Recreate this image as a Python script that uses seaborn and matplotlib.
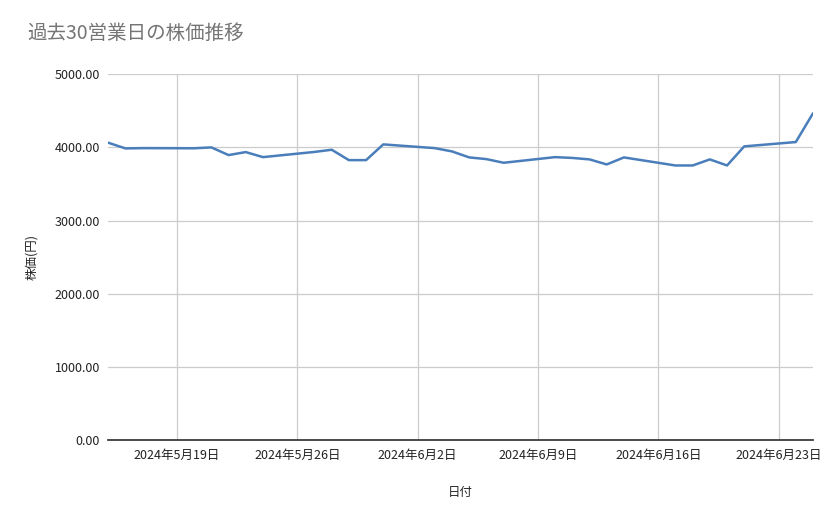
import matplotlib
matplotlib.use("Agg")
import matplotlib.pyplot as plt
import matplotlib.dates as mdates
from matplotlib.ticker import FuncFormatter
import seaborn as sns
import pandas as pd

dates = ["2024-05-15","2024-05-16","2024-05-17","2024-05-20","2024-05-21","2024-05-22","2024-05-23","2024-05-24",
         "2024-05-27","2024-05-28","2024-05-29","2024-05-30","2024-05-31","2024-06-03","2024-06-04","2024-06-05",
         "2024-06-06","2024-06-07","2024-06-10","2024-06-11","2024-06-12","2024-06-13","2024-06-14","2024-06-17",
         "2024-06-18","2024-06-19","2024-06-20","2024-06-21","2024-06-24","2024-06-25"]
prices = [4064,3986,3990,3988,4000,3895,3936,3867,3938,3968,3826,3826,4041,3990,3945,3863,
          3840,3790,3867,3856,3836,3767,3863,3753,3753,3836,3753,4014,4073,4466]
tick_dates = ["2024-05-19","2024-05-26","2024-06-02","2024-06-09","2024-06-16","2024-06-23"]

df = pd.DataFrame({"date": pd.to_datetime(dates), "price": prices})

sns.set_theme(style="whitegrid")
plt.rcParams['font.family'] = ['Noto Sans CJK JP', 'DejaVu Sans']

fig = plt.figure(figsize=(8.39, 5.19), dpi=100)
ax = fig.add_axes([0.129, 0.152, 0.84, 0.705])
sns.lineplot(data=df, x="date", y="price", ax=ax, color="#4a7ebb", linewidth=1.8)

ax.set_xlim(pd.Timestamp("2024-05-15"), pd.Timestamp("2024-06-25"))
ax.set_ylim(0, 5000)
ax.set_yticks([0, 1000, 2000, 3000, 4000, 5000])
ax.yaxis.set_major_formatter(FuncFormatter(lambda v, p: f"{v:.2f}"))
ticks = pd.to_datetime(tick_dates)
ax.set_xticks(ticks)
ax.set_xticklabels([f"{d.year}年{d.month}月{d.day}日" for d in ticks])
ax.tick_params(labelsize=9, colors="#222222", length=0, pad=6)
for s in ["top", "right", "left"]:
    ax.spines[s].set_visible(False)
ax.spines["bottom"].set_color("#333333")
ax.grid(True, color="#cccccc", linewidth=0.9)
ax.set_xlabel("日付", fontsize=9, labelpad=18)
ax.set_ylabel("株価(円)", fontsize=9, labelpad=12)
fig.text(0.033, 0.925, "過去30営業日の株価推移", fontsize=14, color="#757575")
fig.savefig("out.png", dpi=100)
